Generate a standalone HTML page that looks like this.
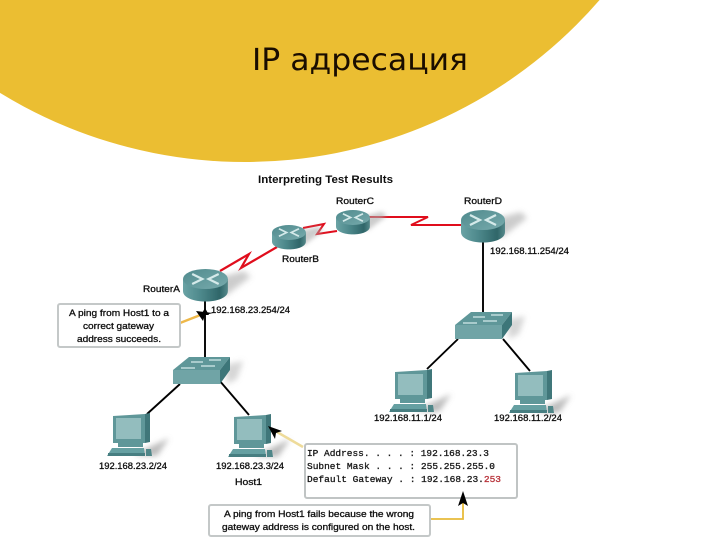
<!DOCTYPE html>
<html><head><meta charset="utf-8"><style>
html,body{margin:0;padding:0;background:#fff}
svg{display:block}
text{font-family:"Liberation Sans",sans-serif;fill:#111}
.l{font-size:9px;stroke:#111;stroke-width:.3px}
.m{font-family:"Liberation Mono",monospace;font-size:9.5px;stroke:#222;stroke-width:.3px}
</style></head><body>
<svg width="720" height="540" viewBox="0 0 720 540" xmlns="http://www.w3.org/2000/svg">
<defs>
<linearGradient id="cyl" x1="0" x2="1" y1="0" y2="0"><stop offset="0" stop-color="#6aa3a5"/><stop offset=".4" stop-color="#4d888b"/><stop offset=".82" stop-color="#2f6669"/><stop offset="1" stop-color="#56898b"/></linearGradient>
<linearGradient id="top" x1="0" x2="1" y1="0" y2="1"><stop offset="0" stop-color="#4f8a8d"/><stop offset="1" stop-color="#78abad"/></linearGradient>
<filter id="b" x="-40%" y="-60%" width="180%" height="220%"><feGaussianBlur stdDeviation="3"/></filter>
<filter id="s" x="-5%" y="-5%" width="110%" height="110%"><feGaussianBlur stdDeviation="0.35"/></filter>
<g id="router">
<path d="M30 10 L60 2 L66 8 L40 28 Z" fill="#aaa" filter="url(#b)" opacity=".6"/>
<path d="M0 10 V22 C0 36 44 36 44 22 V10 Z" fill="url(#cyl)"/>
<ellipse cx="22" cy="10" rx="22" ry="10" fill="url(#top)"/>
<path d="M9 5 L19 10 L9 15 M35 5 L25 10 L35 15" stroke="#d5eaea" stroke-width="2.2" fill="none"/>
</g>
<g id="switch">
<path d="M52 8 L70 4 L64 22 L54 27 Z" fill="#bbb" filter="url(#b)" opacity=".6"/>
<path d="M0 13 L16 0 H57 L47 13 Z" fill="#5e9799"/>
<rect x="0" y="13" width="47" height="14" fill="#6fa4a6"/>
<path d="M47 13 L57 0 V13 L47 27 Z" fill="#3d7679"/>
<path d="M8 11 H22 M28 9 H42 M18 5 H30 M36 3 H48" stroke="#d5eaea" stroke-width="1.3"/>
</g>
<g id="pc">
<path d="M26 42 L62 25 L50 43 Z" fill="#aaa" filter="url(#b)" opacity=".8"/>
<path d="M6 3 L38 1 V30 H6 Z" fill="#5f9799"/>
<rect x="9" y="5" width="25" height="21" fill="#93bdbe"/>
<path d="M38 1 L43 0 V29 L38 30 Z" fill="#3f777a"/>
<rect x="11" y="30" width="25" height="4" fill="#5f9799"/>
<path d="M5 35 H37 L38 43 H0 Z" fill="#66a0a2"/>
<rect x="1" y="40" width="37" height="3" fill="#477e81"/>
<path d="M39 36 h5 l1 7 h-6 Z" fill="#4f8688"/>
</g>
</defs>

<circle cx="245" cy="-307" r="469" fill="#ebbe32"/>
<text x="252" y="70" textLength="216" lengthAdjust="spacingAndGlyphs" style="font-family:'DejaVu Sans',sans-serif;font-size:30px;fill:#1a0d00">IP адресация</text>

<g filter="url(#s)">
<text x="258" y="183" textLength="135" lengthAdjust="spacingAndGlyphs" style="font-size:11px;font-weight:bold">Interpreting Test Results</text>

<!-- black links -->
<g stroke="#000" stroke-width="1.9" fill="none">
<path d="M205 300 V358"/>
<path d="M483 240 V313"/>
<path d="M180 384 L147 414"/>
<path d="M219 380 L249 415"/>
<path d="M458 339 L427 369"/>
<path d="M503 339 L530 371"/>
</g>

<!-- serial links -->
<g stroke="#e0101e" fill="none" stroke-width="2" stroke-linejoin="miter">
<path d="M220 271 L249 254 L241 268 L277 247" stroke-width="2.2"/>
<path d="M303 228 L324 224 L317 234 L337 231"/>
<path d="M368 217 H428 L411 225 H461"/>
</g>

<!-- devices -->
<use href="#router" transform="translate(183,269) scale(1.02,1)"/>
<use href="#router" transform="translate(272,225) scale(.77,.75)"/>
<use href="#router" transform="translate(336,210) scale(.77,.75)"/>
<use href="#router" transform="translate(461,210)"/>
<use href="#switch" transform="translate(173,357)"/>
<use href="#switch" transform="translate(455,312)"/>
<use href="#pc" transform="translate(107,413)"/>
<use href="#pc" transform="translate(228,414)"/>
<use href="#pc" transform="translate(389,369)"/>
<use href="#pc" transform="translate(509,370)"/>

<!-- labels -->
<text class="l" x="336" y="204" textLength="38" lengthAdjust="spacingAndGlyphs">RouterC</text>
<text class="l" x="464" y="204" textLength="38" lengthAdjust="spacingAndGlyphs">RouterD</text>
<text class="l" x="282" y="262" textLength="37" lengthAdjust="spacingAndGlyphs">RouterB</text>
<text class="l" x="143" y="292" textLength="37" lengthAdjust="spacingAndGlyphs">RouterA</text>
<text class="l" x="211" y="313" textLength="79" lengthAdjust="spacingAndGlyphs">192.168.23.254/24</text>
<text class="l" x="490" y="254" textLength="79" lengthAdjust="spacingAndGlyphs">192.168.11.254/24</text>
<text class="l" x="99" y="469" textLength="68" lengthAdjust="spacingAndGlyphs">192.168.23.2/24</text>
<text class="l" x="216" y="469" textLength="68" lengthAdjust="spacingAndGlyphs">192.168.23.3/24</text>
<text class="l" x="235" y="485" textLength="27" lengthAdjust="spacingAndGlyphs">Host1</text>
<text class="l" x="374" y="421" textLength="68" lengthAdjust="spacingAndGlyphs">192.168.11.1/24</text>
<text class="l" x="494" y="421" textLength="68" lengthAdjust="spacingAndGlyphs">192.168.11.2/24</text>

<!-- callout 1 -->
<path d="M180 323 L203 314" stroke="#eeb84a" stroke-width="2.4"/>
<rect x="58" y="304" width="122" height="43" rx="2" fill="#fff" stroke="#c4c8c8" stroke-width="2"/>
<text class="l" x="69" y="316" textLength="100" lengthAdjust="spacingAndGlyphs">A ping from Host1 to a</text>
<text class="l" x="83" y="329" textLength="71" lengthAdjust="spacingAndGlyphs">correct gateway</text>
<text class="l" x="77" y="342" textLength="84" lengthAdjust="spacingAndGlyphs">address succeeds.</text>
<path d="M196 311 L213 313 L205 315 L203 321 Z" fill="#000"/>
<path d="M201 315 L205 308 L209 315 Z" fill="#000"/>

<!-- IP box -->
<path d="M303 447 L277 432" stroke="#eedb9a" stroke-width="2.5"/>
<path d="M268 426 L282 431 L276 433 L275 439 Z" fill="#000"/>
<rect x="305" y="444" width="212" height="54" rx="2" fill="#fff" stroke="#c0c4c4" stroke-width="2"/>
<text class="m" x="307" y="456" textLength="182" lengthAdjust="spacingAndGlyphs">IP Address. . . . : 192.168.23.3</text>
<text class="m" x="307" y="469" textLength="188" lengthAdjust="spacingAndGlyphs">Subnet Mask . . . : 255.255.255.0</text>
<text class="m" x="307" y="482" textLength="194" lengthAdjust="spacingAndGlyphs" xml:space="preserve">Default Gateway . : 192.168.23.<tspan style="fill:#b8323a;stroke:#b8323a">253</tspan></text>

<!-- callout 2 -->
<path d="M430 519 H463 V502" stroke="#e8bb3a" stroke-width="1.8" fill="none"/>
<path d="M463 491 L468 506 L463 503 L458 506 Z" fill="#000"/>
<rect x="209" y="505" width="221" height="31" rx="2" fill="#fff" stroke="#c4c8c8" stroke-width="2"/>
<text class="l" x="224" y="517" textLength="190" lengthAdjust="spacingAndGlyphs">A ping from Host1 fails because the wrong</text>
<text class="l" x="222" y="530" textLength="193" lengthAdjust="spacingAndGlyphs">gateway address is configured on the host.</text>
</g>
</svg>
</body></html>
